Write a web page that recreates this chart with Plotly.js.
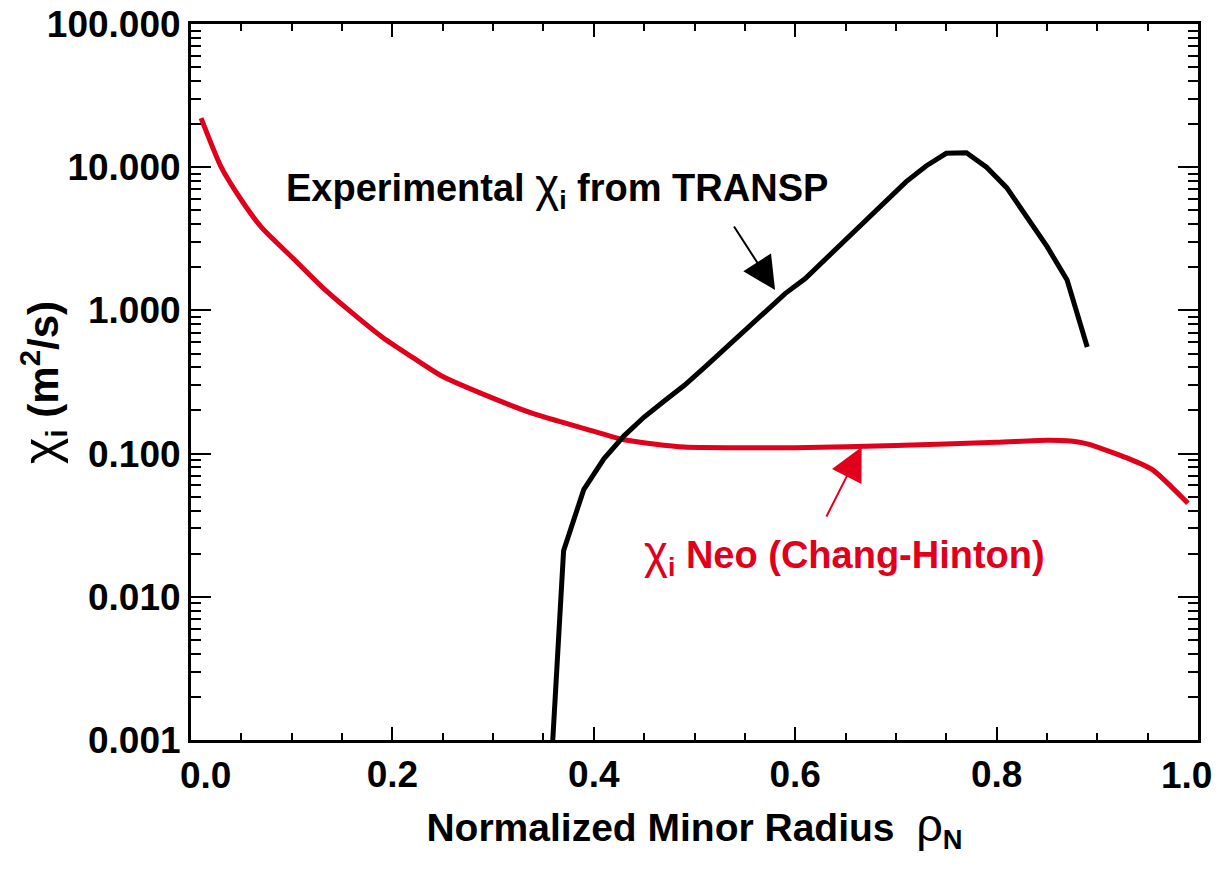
<!DOCTYPE html>
<html>
<head>
<meta charset="utf-8">
<script src="https://cdn.plot.ly/plotly-3.0.1.min.js"></script>
<style>html,body{margin:0;padding:0;background:#fff;}#chart{width:1222px;height:873px;}</style>
</head>
<body>
<div id="chart"></div>
<script>
// Experimental chi_i from TRANSP (black)
const rhoExp = [0.358, 0.37, 0.39, 0.41, 0.43, 0.45, 0.47, 0.49, 0.51, 0.53, 0.55, 0.57, 0.59, 0.61, 0.63, 0.65, 0.67, 0.69, 0.71, 0.73, 0.75, 0.77, 0.79, 0.81, 0.83, 0.85, 0.87, 0.89];
const chiExp = [0.0007, 0.021, 0.056, 0.092, 0.133, 0.18, 0.233, 0.30, 0.40, 0.54, 0.72, 0.97, 1.31, 1.67, 2.29, 3.13, 4.28, 5.85, 7.9, 10.2, 12.5, 12.6, 10.0, 7.2, 4.47, 2.8, 1.63, 0.555];

// Neoclassical chi_i (Chang-Hinton) (red)
const rhoNeo = [0.01, 0.03, 0.05, 0.07, 0.10, 0.13, 0.16, 0.19, 0.22, 0.25, 0.29, 0.34, 0.39, 0.43, 0.49, 0.55, 0.60, 0.70, 0.80, 0.85, 0.87, 0.89, 0.93, 0.955, 0.97, 0.99];
const chiNeo = [22, 10, 5.9, 3.8, 2.36, 1.46, 0.96, 0.65, 0.47, 0.345, 0.26, 0.19, 0.15, 0.125, 0.111, 0.110, 0.110, 0.114, 0.120, 0.124, 0.123, 0.117, 0.093, 0.077, 0.062, 0.045];

const yTickVals = [0.001, 0.01, 0.1, 1, 10, 100];
const yTickText = ["0.001", "0.010", "0.100", "1.000", "10.000", "100.000"];
const xTickVals = [0.0, 0.2, 0.4, 0.6, 0.8, 1.0];
const xTickText = ["0.0", "0.2", "0.4", "0.6", "0.8", "1.0"];

const FONT = "'Liberation Sans', Arial, sans-serif";
const RED = "#e0001b";
const CHI = '<span style="font-weight:normal;font-size:1.2em">χ</span>';
const RHO = '<span style="font-weight:normal;font-size:1.2em">ρ</span>';

// minor log ticks 2..9 per decade
const yMinor = [];
for (let d = -3; d < 2; d++) for (let k = 2; k <= 9; k++) yMinor.push(k * Math.pow(10, d));

// end labels drawn inset (as in the original figure)
const axisTickText = xTickText.map((t, i) => (i === 0 || i === xTickText.length - 1) ? "" : t);

const traces = [
  {x: rhoNeo, y: chiNeo, mode: "lines", line: {color: RED, width: 5, shape: "spline", smoothing: 0.6}, cliponaxis: true, hoverinfo: "skip"},
  {x: rhoExp, y: chiExp, mode: "lines", line: {color: "#000", width: 5}, cliponaxis: true, hoverinfo: "skip"}
];

const layout = {
  width: 1222, height: 873,
  margin: {l: 191, r: 24, t: 24, b: 133},
  paper_bgcolor: "#fff", plot_bgcolor: "#fff",
  showlegend: false,
  font: {family: FONT, color: "#000"},
  xaxis: {
    range: [0, 1], tickmode: "array", tickvals: xTickVals, ticktext: axisTickText,
    ticks: "inside", ticklen: 13, tickwidth: 2, tickcolor: "#000",
    minor: {tickmode: "linear", tick0: 0, dtick: 0.05, ticks: "inside", ticklen: 7, tickwidth: 2, tickcolor: "#000"},
    showline: true, linewidth: 3, linecolor: "#000", mirror: "ticks",
    showgrid: false, zeroline: false,
    tickfont: {size: 37, family: FONT, weight: "bold"},
    title: {text: "<b>Normalized Minor Radius  " + RHO + "<sub>N</sub></b>", font: {size: 39, family: FONT}, standoff: 20}
  },
  yaxis: {
    type: "log", range: [-3, 2], tickmode: "array", tickvals: yTickVals, ticktext: yTickText,
    ticks: "inside", ticklen: 20, tickwidth: 2, tickcolor: "#000",
    minor: {tickmode: "array", tickvals: yMinor, ticks: "inside", ticklen: 10, tickwidth: 2, tickcolor: "#000"},
    showline: true, linewidth: 3, linecolor: "#000", mirror: "ticks",
    showgrid: false, zeroline: false,
    tickfont: {size: 37, family: FONT, weight: "bold"}
  },
  annotations: [
    {xref: "paper", yref: "paper", x: 0.014, y: -0.049, xanchor: "center", yanchor: "middle",
     text: "<b>" + xTickText[0] + "</b>", showarrow: false, font: {size: 37, family: FONT, color: "#000"}},
    {xref: "paper", yref: "paper", x: 0.989, y: -0.049, xanchor: "center", yanchor: "middle",
     text: "<b>" + xTickText[xTickText.length - 1] + "</b>", showarrow: false, font: {size: 37, family: FONT, color: "#000"}},
    {xref: "paper", yref: "paper", x: -0.148, y: 0.50, xanchor: "center", yanchor: "middle", textangle: -90,
     text: "<b>" + CHI + "<sub>i</sub> (m<sup>2</sup>/s)</b>", showarrow: false, font: {size: 42, family: FONT, color: "#000"}},
    {xref: "x", yref: "y", x: 0.363, y: 0.855, text: "<b>Experimental " + CHI + "<sub>i</sub> from TRANSP</b>", showarrow: false,
     font: {size: 38, family: FONT, color: "#000"}},
    {xref: "x", yref: "y", x: 0.580, y: 0.142, text: "", showarrow: true, arrowhead: 2, arrowsize: 3.3, arrowwidth: 2,
     arrowcolor: "#000", ax: -42, ay: -65},
    {xref: "x", yref: "y", x: 0.649, y: -1.708, text: "<b>" + CHI + "<sub>i</sub> Neo (Chang-Hinton)</b>", showarrow: false,
     font: {size: 38, family: FONT, color: RED}},
    {xref: "x", yref: "y", x: 0.666, y: -0.954, text: "", showarrow: true, arrowhead: 2, arrowsize: 3.3, arrowwidth: 2,
     arrowcolor: RED, ax: -36, ay: 71}
  ]
};

Plotly.newPlot("chart", traces, layout, {staticPlot: true});
</script>
</body>
</html>
